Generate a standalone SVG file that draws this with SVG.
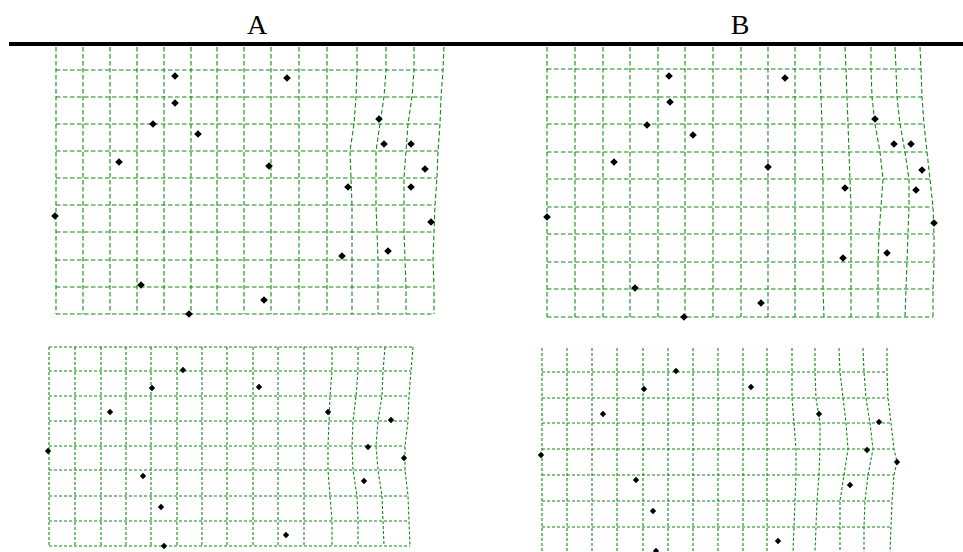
<svg xmlns="http://www.w3.org/2000/svg" xmlns:xlink="http://www.w3.org/1999/xlink" width="963" height="552" viewBox="0 0 963 552">
<style>
.g{fill:none;stroke:#138a13;stroke-width:1.1}
.gt{stroke-dasharray:4.5 2.5}
.gb{stroke-dasharray:3 2}
.lbl{font-family:"Liberation Serif","DejaVu Serif",serif;font-size:28px;fill:#000;text-anchor:middle}
</style>
<defs>
<path id="d" d="M0,-3.8 L3.8,0 L0,3.8 L-3.8,0 Z" fill="#000"/>
<path id="s" d="M0,-3.2 L3.2,0 L0,3.2 L-3.2,0 Z" fill="#000"/>
</defs>
<rect width="963" height="552" fill="#fff"/>
<text class="lbl" x="257" y="34">A</text>
<text class="lbl" x="740" y="34">B</text>
<rect x="9" y="42" width="954" height="4" fill="#000"/>

<g>
<!-- Top A grid -->
<g id="gridA1" class="g gt">
<path d="M56,47V314M83,47V314M110,47V314M137,47V314M164,47V314M191,47V314M217,47V314M244,47V314M271,47V314M299,47V314M327,47V314"/>
<polyline points="357,47 357,70 356,97 354,124 350,151 351,178 352,205 352,232 352,260 352,287 352,314"/>
<polyline points="386,47 386,70 384,97 380,124 376,151 376,178 376,205 377,232 378,260 378,287 378,314"/>
<polyline points="414,47 414,70 412,97 408,124 406,151 404,178 404,205 404,232 405,260 406,287 406,314"/>
<polyline points="444,47 443,70 441,97 440,124 438,151 437,178 435,205 434,232 433,260 434,287 434,314"/>
<path d="M56,70H443M56,97H441M56,124H440M56,151H438M56,178H437M56,205H435M56,232H434M56,260H433M56,287H434M56,314H434"/>
</g>

<!-- Top B grid -->
<g id="gridB1" class="g gt">
<path d="M547,47V317M575,47V317M603,47V317M630,47V317M658,47V317M685,47V317M713,47V317M741,47V317M768,47V317M795,47V317"/>
<polyline points="820,47 820,69 821,97 822,124 822,152 823,179 823,207 823,234 823,262 823,289 824,317"/>
<polyline points="845,47 846,69 847,97 848,124 849,152 850,179 851,207 851,234 851,262 851,289 851,317"/>
<polyline points="871,47 871,69 872,97 875,124 880,152 883,179 881,207 879,234 878,262 878,289 878,317"/>
<polyline points="895,47 896,69 897,97 900,124 905,152 909,179 909,207 908,234 907,262 906,289 905,317"/>
<polyline points="920,47 921,69 922,97 924,124 927,152 930,179 933,207 934,234 934,262 933,289 933,317"/>
<path d="M547,69H921M547,97H922M547,124H924M547,152H927M547,179H930M547,207H933M547,234H934M547,262H934M547,289H933M547,317H933"/>
</g>

<!-- Bottom A grid -->
<g id="gridA2" class="g gb">
<path d="M49,347V546M75,347V546M101,347V546M126,347V546M151,347V546M177,347V546M202,347V546M227,347V546M253,347V546M278,347V546M304,347V546"/>
<polyline points="332,347 332,371 330,396 329,421 328,446 328,470 330,496 332,521 332,546"/>
<polyline points="358,347 358,371 356,396 353,421 352,446 353,470 357,496 358,521 358,546"/>
<polyline points="385,347 383,371 382,396 378,421 376,446 378,470 382,496 383,521 384,546"/>
<polyline points="413,347 411,371 409,396 408,421 405,446 405,470 408,496 409,521 410,546"/>
<path d="M49,347H413M49,371H411M49,396H409M49,421H408M49,446H405M49,470H405M49,496H408M49,521H409M49,546H410"/>
</g>

<!-- Bottom B grid -->
<g id="gridB2" class="g gb">
<path d="M542,348V552M567,348V552M592,348V552M617,348V552M643,348V552M668,348V552M693,348V552M718,348V552M743,348V552M767,348V552"/>
<polyline points="792,348 792,372 792,398 794,423 796,449 796,475 795,501 794,527 793,552"/>
<polyline points="815,348 815,372 816,398 820,423 820,449 819,475 817,501 816,527 815,552"/>
<polyline points="839,348 840,372 843,398 846,423 848,449 844,475 840,501 840,527 840,552"/>
<polyline points="863,348 864,372 866,398 870,423 873,449 868,475 865,501 864,527 864,552"/>
<polyline points="887,348 887,372 888,398 891,423 894,449 897,462 894,475 892,501 891,527 890,552"/>
<path d="M542,372H887M542,398H888M542,423H891M542,449H894M542,475H894M542,501H892M542,527H891"/>
</g>
</g>

<g id="dotsA1">
<use href="#d" x="175" y="76"/><use href="#d" x="287" y="78"/><use href="#d" x="175" y="103"/><use href="#d" x="153" y="124"/><use href="#d" x="198" y="134"/>
<use href="#d" x="379" y="119"/><use href="#d" x="384" y="144"/><use href="#d" x="411" y="144"/><use href="#d" x="119" y="162"/><use href="#d" x="269" y="166"/>
<use href="#d" x="425" y="169"/><use href="#d" x="348" y="187"/><use href="#d" x="411" y="187"/><use href="#d" x="55" y="216"/><use href="#d" x="431" y="222"/>
<use href="#d" x="388" y="251"/><use href="#d" x="342" y="256"/><use href="#d" x="141" y="285"/><use href="#d" x="264" y="300"/><use href="#d" x="189" y="314"/>
</g>
<g id="dotsB1">
<use href="#d" x="669" y="76"/><use href="#d" x="785" y="78"/><use href="#d" x="670" y="102"/><use href="#d" x="647" y="125"/><use href="#d" x="693" y="135"/>
<use href="#d" x="875" y="119"/><use href="#d" x="894" y="144"/><use href="#d" x="911" y="144"/><use href="#d" x="614" y="162"/><use href="#d" x="768" y="167"/>
<use href="#d" x="922" y="170"/><use href="#d" x="845" y="188"/><use href="#d" x="916" y="190"/><use href="#d" x="547" y="217"/><use href="#d" x="934" y="223"/>
<use href="#d" x="887" y="253"/><use href="#d" x="843" y="258"/><use href="#d" x="635" y="288"/><use href="#d" x="761" y="303"/><use href="#d" x="684" y="317"/>
</g>
<g id="dotsA2">
<use href="#s" x="183" y="370"/><use href="#s" x="152" y="388"/><use href="#s" x="259" y="387"/><use href="#s" x="110" y="412"/><use href="#s" x="328" y="412"/>
<use href="#s" x="391" y="420"/><use href="#s" x="48" y="451"/><use href="#s" x="368" y="447"/><use href="#s" x="404" y="458"/><use href="#s" x="143" y="476"/>
<use href="#s" x="364" y="481"/><use href="#s" x="161" y="507"/><use href="#s" x="286" y="535"/><use href="#s" x="164" y="546"/>
</g>
<g id="dotsB2">
<use href="#s" x="676" y="371"/><use href="#s" x="644" y="389"/><use href="#s" x="751" y="387"/><use href="#s" x="603" y="414"/><use href="#s" x="819" y="414"/>
<use href="#s" x="879" y="422"/><use href="#s" x="541" y="455"/><use href="#s" x="867" y="450"/><use href="#s" x="897" y="462"/><use href="#s" x="636" y="480"/>
<use href="#s" x="850" y="485"/><use href="#s" x="653" y="511"/><use href="#s" x="778" y="541"/><use href="#s" x="656" y="551"/>
</g>
</svg>
